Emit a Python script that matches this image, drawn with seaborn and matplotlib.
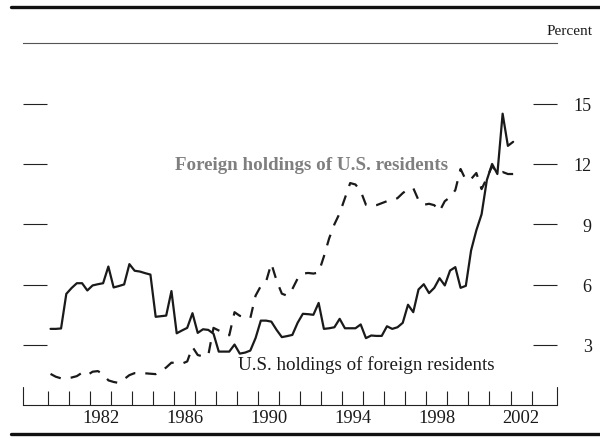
import numpy as np
import pandas as pd
import seaborn as sns
import matplotlib.pyplot as plt

# quarterly data, 1980:Q1 - 2002:Q1, percent
quarters = pd.period_range("1980Q1", "2002Q1", freq="Q")
us_holdings_foreign = [
    3.80, 3.80, 3.82, 5.54,
    5.83, 6.07, 6.07, 5.71,
    5.96, 6.02, 6.07, 6.90,
    5.86, 5.93, 6.01, 7.02,
    6.69, 6.65, 6.57, 6.50,
    4.40, 4.43, 4.46, 5.68,
    3.58, 3.72, 3.85, 4.58,
    3.60, 3.78, 3.75, 3.56,
    2.67, 2.67, 2.67, 3.02,
    2.57, 2.62, 2.72, 3.34,
    4.21, 4.21, 4.16, 3.75,
    3.39, 3.44, 3.50, 4.10,
    4.55, 4.53, 4.50, 5.09,
    3.80, 3.83, 3.88, 4.30,
    3.83, 3.83, 3.83, 4.02,
    3.34, 3.47, 3.45, 3.45,
    3.93, 3.80, 3.88, 4.10,
    5.00, 4.63, 5.76, 6.02,
    5.58, 5.84, 6.32, 5.96,
    6.70, 6.87, 5.84, 5.94,
    7.70, 8.70, 9.50, 11.20,
    12.00, 11.50, 14.50, 12.90,
    13.10,
]
foreign_holdings_us = [
    1.56, 1.42, 1.34, 1.34,
    1.38, 1.45, 1.62, 1.50,
    1.67, 1.70, 1.55, 1.24,
    1.16, 1.11, 1.30, 1.50,
    1.60, 1.60, 1.59, 1.57,
    1.55, 1.70, 1.88, 2.12,
    2.10, 2.07, 2.18, 2.90,
    2.50, 2.43, 2.48, 3.85,
    3.72, 3.60, 3.48, 4.63,
    4.45, 4.38, 4.33, 5.45,
    5.93, 6.15, 7.05, 6.20,
    5.55, 5.45, 5.78, 6.30,
    6.55, 6.58, 6.55, 6.60,
    7.40, 8.30, 9.00, 9.55,
    10.30, 11.05, 10.98, 10.65,
    9.97, 9.90, 9.95, 10.05,
    10.15, 10.20, 10.30, 10.55,
    10.75, 10.80, 10.20, 9.97,
    10.02, 9.95, 9.65, 10.15,
    10.35, 10.70, 11.75, 11.20,
    11.25, 11.55, 10.75, 11.30,
    11.90, 11.55, 11.60, 11.50,
    11.50,
]
us_label = "U.S. holdings of foreign residents"
foreign_label = "Foreign holdings of U.S. residents"
year_labels = ["1982", "1986", "1990", "1994", "1998", "2002"]
year_ticks = list(range(1980, 2004))
y_ticks = [3, 6, 9, 12, 15]

t = quarters.year + (quarters.quarter - 0.5) / 4
df = pd.concat([
    pd.DataFrame({"date": t, "value": us_holdings_foreign, "series": us_label}),
    pd.DataFrame({"date": t, "value": foreign_holdings_us, "series": foreign_label}),
])

sns.set_theme(style="white")
plt.rcParams["font.family"] = ["Liberation Serif", "DejaVu Serif"]

fig = plt.figure(figsize=(6, 4.39), dpi=100)
ax = fig.add_axes([0.0378, 0.0745, 0.8905, 0.8246])

sns.lineplot(data=df, x="date", y="value", style="series",
             dashes={us_label: "", foreign_label: (5, 4.5)},
             color="#1a1a1a", lw=1.6, legend=False, ax=ax)

ax.set_xlim(1978.8, 2004.21)
ax.set_ylim(0, 18)
ax.set_xlabel("")
ax.set_ylabel("")

for side in ["left", "right"]:
    ax.spines[side].set_visible(False)
ax.spines["top"].set_color("#555555")
ax.spines["top"].set_linewidth(0.8)
ax.spines["bottom"].set_color("#222222")
ax.spines["bottom"].set_linewidth(0.8)

# x axis: year ticks, labels centred in the year
ax.set_xticks(year_ticks)
ax.set_xticklabels([])
ax.set_xticks([int(y) + 0.5 for y in year_labels], minor=True)
ax.set_xticklabels(year_labels, minor=True)
ax.tick_params(axis="x", which="major", direction="in", length=10,
               width=0.8, color="#222222", bottom=True)
ax.tick_params(axis="x", which="minor", length=0, pad=3, labelsize=13.3,
               labelcolor="#1a1a1a", bottom=True)
for edge in ax.get_xlim():
    ax.axvline(edge, 0, 0.05, color="#222222", lw=0.8, clip_on=False)

# y axis: ticks both sides, labels on the right
ax.set_yticks(y_ticks)
ax.tick_params(axis="y", direction="in", length=17, width=0.8,
               color="#222222", left=True, right=True,
               labelleft=False, labelright=True, labelsize=13, pad=25,
               labelcolor="#1a1a1a")
for lab in ax.get_yticklabels():
    lab.set_horizontalalignment("right")

ax.text(1992.56, 11.97, foreign_label, ha="center", va="center",
        fontsize=13.7, fontweight="bold", color="#7f7f7f")
ax.text(1995.15, 2.06, us_label, ha="center", va="center",
        fontsize=13.7, color="#1a1a1a")

fig.text(0.988, 1 - 35 / 439, "Percent", ha="right", va="baseline",
         fontsize=11, color="#1a1a1a")

fig.add_artist(plt.Line2D([0.018, 1.0], [1 - 8 / 439] * 2, color="#111111", lw=2.4))
fig.add_artist(plt.Line2D([0.018, 1.0], [1 - 435 / 439] * 2, color="#111111", lw=2.4))

fig.savefig("out.png", dpi=100)
